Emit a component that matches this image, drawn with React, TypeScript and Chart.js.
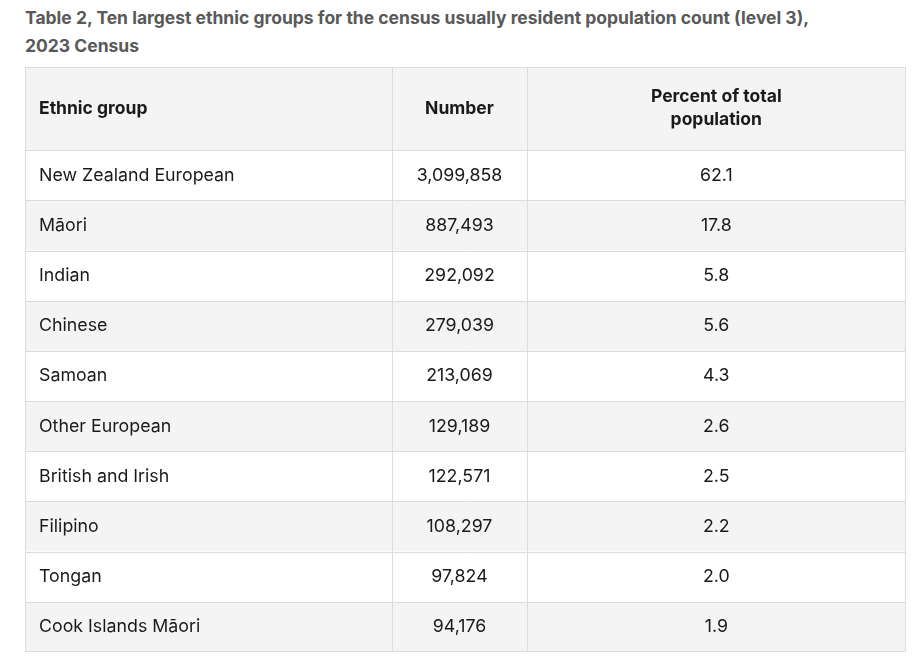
import React, { useEffect, useRef } from "react";
import { Chart, registerables } from "chart.js";

Chart.register(...registerables);

const TITLE_LINES = [
  "Table 2, Ten largest ethnic groups for the census usually resident population count (level 3),",
  "2023 Census",
];
const HEADERS = ["Ethnic group", "Number", "Percent of total\npopulation"];
const GROUPS = [
  "New Zealand European",
  "Māori",
  "Indian",
  "Chinese",
  "Samoan",
  "Other European",
  "British and Irish",
  "Filipino",
  "Tongan",
  "Cook Islands Māori",
];
const COUNTS = [3099858, 887493, 292092, 279039, 213069, 129189, 122571, 108297, 97824, 94176];
const PERCENTS = [62.1, 17.8, 5.8, 5.6, 4.3, 2.6, 2.5, 2.2, 2.0, 1.9];

// column edges (in table units) and header height in row units
const COL_EDGES = [0, 367, 501, 880];
const HEADER_ROWS = 1.66;

const FONT = "Inter, 'Open Sans', sans-serif";

const fmtCount = (n: number) => n.toLocaleString("en-US");
const fmtPct = (p: number) => p.toFixed(1);

const tablePlugin = {
  id: "tableDraw",
  beforeDatasetsDraw(chart: any) {
    const { ctx, scales } = chart;
    const x = scales.x;
    const y = scales.y;
    const W = chart.width;
    const H = chart.height;
    const left = x.getPixelForValue(COL_EDGES[0]);
    const right = x.getPixelForValue(COL_EDGES[COL_EDGES.length - 1]);
    ctx.save();
    const hTop = y.getPixelForValue(-HEADER_ROWS);
    const hBot = y.getPixelForValue(0);
    ctx.fillStyle = "#f4f4f4";
    ctx.fillRect(left, hTop, right - left, hBot - hTop);
    GROUPS.forEach((_, i) => {
      const t = y.getPixelForValue(i);
      const b = y.getPixelForValue(i + 1);
      ctx.fillStyle = i % 2 === 0 ? "#ffffff" : "#f4f4f4";
      ctx.fillRect(left, t, right - left, b - t);
    });
    ctx.strokeStyle = "#dcdcdc";
    ctx.lineWidth = 1;
    const rowsEdges = [-HEADER_ROWS, ...GROUPS.map((_, i) => i), GROUPS.length];
    const top = y.getPixelForValue(-HEADER_ROWS);
    const bottom = y.getPixelForValue(GROUPS.length);
    const snap = (p: number, max: number) => Math.min(Math.round(p), max - 1) + 0.5;
    ctx.beginPath();
    rowsEdges.forEach((r) => {
      const py = snap(y.getPixelForValue(r), H);
      ctx.moveTo(left, py);
      ctx.lineTo(right, py);
    });
    COL_EDGES.forEach((c) => {
      const px = snap(x.getPixelForValue(c), W);
      ctx.moveTo(px, top);
      ctx.lineTo(px, bottom);
    });
    ctx.stroke();
    ctx.restore();
  },
  afterDraw(chart: any) {
    const { ctx, scales } = chart;
    const x = scales.x;
    const y = scales.y;
    ctx.save();
    ctx.fillStyle = "#1a1a1a";
    ctx.textBaseline = "middle";
    const colCenter = (c: number) =>
      (x.getPixelForValue(COL_EDGES[c]) + x.getPixelForValue(COL_EDGES[c + 1])) / 2;
    const padLeft = 14;
    ctx.font = `bold 17.5px ${FONT}`;
    const hMid = (y.getPixelForValue(-HEADER_ROWS) + y.getPixelForValue(0)) / 2;
    HEADERS.forEach((h, c) => {
      const lines = h.split("\n");
      lines.forEach((ln, k) => {
        const py = hMid + (k - (lines.length - 1) / 2) * 23;
        if (c === 0) {
          ctx.textAlign = "left";
          ctx.fillText(ln, x.getPixelForValue(COL_EDGES[0]) + padLeft, py);
        } else {
          ctx.textAlign = "center";
          ctx.fillText(ln, colCenter(c), py);
        }
      });
    });
    ctx.font = `17.8px ${FONT}`;
    GROUPS.forEach((g, i) => {
      const py = y.getPixelForValue(i + 0.5);
      ctx.textAlign = "left";
      ctx.fillText(g, x.getPixelForValue(COL_EDGES[0]) + padLeft, py);
      ctx.textAlign = "center";
      ctx.fillText(fmtCount(COUNTS[i]), colCenter(1), py);
      ctx.fillText(fmtPct(PERCENTS[i]), colCenter(2), py);
    });
    ctx.restore();
  },
};

export default function App() {
  const ref = useRef<HTMLCanvasElement | null>(null);
  useEffect(() => {
    if (!ref.current) return;
    const chart = new Chart(ref.current, {
      type: "scatter",
      data: { datasets: [{ data: [], pointRadius: 0 }] },
      options: {
        animation: false,
        responsive: false,
        devicePixelRatio: 1,
        layout: { padding: 0 },
        plugins: { legend: { display: false }, tooltip: { enabled: false } },
        scales: {
          x: { type: "linear", min: COL_EDGES[0], max: COL_EDGES[COL_EDGES.length - 1], display: false },
          y: { type: "linear", min: -HEADER_ROWS, max: GROUPS.length, reverse: true, display: false },
        },
      },
      plugins: [tablePlugin],
    });
    return () => chart.destroy();
  }, []);
  return (
    <div style={{ position: "absolute", left: 0, top: 0, width: 922, height: 664, background: "#fff" }}>
      <div
        style={{
          position: "absolute",
          left: 25,
          top: 4,
          fontFamily: FONT,
          fontWeight: 700,
          fontSize: 17.5,
          lineHeight: "28px",
          color: "#595959",
          whiteSpace: "nowrap",
        }}
      >
        {TITLE_LINES.map((t, i) => (
          <div key={i}>{t}</div>
        ))}
      </div>
      <canvas ref={ref} width={881} height={585} style={{ position: "absolute", left: 25, top: 67 }} />
    </div>
  );
}
